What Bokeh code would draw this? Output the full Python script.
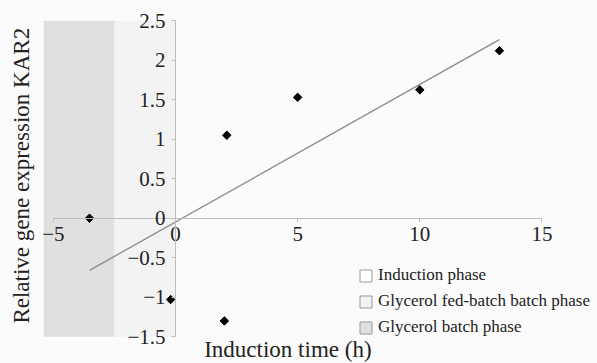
import math
from bokeh.plotting import figure
from bokeh.models import Range1d, Legend, LegendItem, FixedTicker, Label
from bokeh.embed import file_html
from bokeh.resources import INLINE

# ---- data ----
time_h = [-3.52, -0.2, 2.0, 2.1, 5.0, 10.0, 13.26]
kar2 = [0.0, -1.03, -1.30, 1.05, 1.53, 1.625, 2.12]

trend_x = [-3.52, 13.26]
trend_y = [-0.66, 2.26]

phase_names = ["Induction phase", "Glycerol fed-batch batch phase", "Glycerol batch phase"]
phase_start = [0.0, -2.5, -5.4]
phase_end = [17.3, 0.0, -2.5]
phase_colors = ["#fbfbfb", "#f3f3f3", "#e0e0e0"]
legend_colors = ["#ffffff", "#f3f3f3", "#e0e0e0"]

x_ticks = [-5.0, 0.0, 5.0, 10.0, 15.0]
x_tick_labels = ["\u22125", "0", "5", "10", "15"]
y_ticks = [-1.5, -1.0, -0.5, 0.0, 0.5, 1.0, 1.5, 2.0, 2.5]
y_tick_labels = ["\u22121.5", "\u22121", "\u22120.5", "0", "0.5", "1", "1.5", "2", "2.5"]

x_title = "Induction time (h)"
y_title = "Relative gene expression KAR2"

# region of the chart panel, in data units
y_lo, y_hi = -1.5, 2.5
# full view (the frame covers the whole canvas so no text is clipped)
view_x = (-7.163, 17.274)
view_y = (-1.839, 2.756)

FONT = "Liberation Serif"
BG = "#fbfbfb"
TXT = "#222222"

p = figure(width=597, height=363, x_range=Range1d(*view_x), y_range=Range1d(*view_y),
           output_backend="svg", toolbar_location=None, title=None,
           min_border_left=0, min_border_right=0, min_border_top=0, min_border_bottom=0,
           background_fill_color=BG, border_fill_color=BG, outline_line_color=None)
p.grid.visible = False

# phase regions
p.quad(left=phase_start, right=phase_end, bottom=[y_lo] * 3, top=[y_hi] * 3,
       fill_color=phase_colors, line_color=None)

# legend renderers (hidden, only their legend glyphs are shown)
items = []
for i, (name, col) in enumerate(zip(phase_names, legend_colors)):
    r = p.quad(left=[phase_start[i]], right=[phase_end[i]], bottom=[y_lo], top=[y_hi],
               fill_color=col, line_color="#9a9a9a", line_width=1)
    r.visible = False
    items.append(LegendItem(label=name, renderers=[r]))

p.line(trend_x, trend_y, line_color="#8a8a8a", line_width=1.3)
p.scatter(time_h, kar2, marker="square", angle=math.pi / 4, size=6, color="black")

legend = Legend(items=items, location=(358, 26), orientation="vertical",
                background_fill_alpha=0, border_line_color=None,
                inactive_fill_alpha=0,
                glyph_width=15, glyph_height=15, label_height=15,
                label_text_font=FONT, label_text_font_size="17px", label_text_color=TXT,
                label_standoff=5, spacing=6, padding=0, margin=0, click_policy="none")
p.add_layout(legend)

for ax, ticks, labels, standoff in ((p.xaxis, x_ticks, x_tick_labels, 5),
                                    (p.yaxis, y_ticks, y_tick_labels, 6)):
    ax.fixed_location = 0
    ax.ticker = FixedTicker(ticks=ticks)
    ax.major_label_overrides = dict(zip(ticks, labels))
    ax.minor_tick_line_color = None
    ax.major_tick_in = 0
    ax.major_tick_out = 4
    ax.axis_line_color = "#bdbdbd"
    ax.major_tick_line_color = "#bdbdbd"
    ax.major_label_text_font = FONT
    ax.major_label_text_font_size = "21px"
    ax.major_label_text_color = TXT
    ax.major_label_standoff = standoff
p.xaxis.bounds = (-5, 15)
p.yaxis.bounds = (y_lo, y_hi)

p.add_layout(Label(x=4.6, y=y_lo, y_offset=-13, text=x_title, text_align="center",
                   text_baseline="middle", text_font=FONT, text_font_size="23px",
                   text_color=TXT))
p.add_layout(Label(x=phase_start[2], y=(y_lo + y_hi) / 2, x_offset=-22, y_offset=3,
                   angle=math.pi / 2, text=y_title, text_align="center",
                   text_baseline="middle", text_font=FONT, text_font_size="23px",
                   text_color=TXT))

open("out.html", "w").write(file_html(p, INLINE))
